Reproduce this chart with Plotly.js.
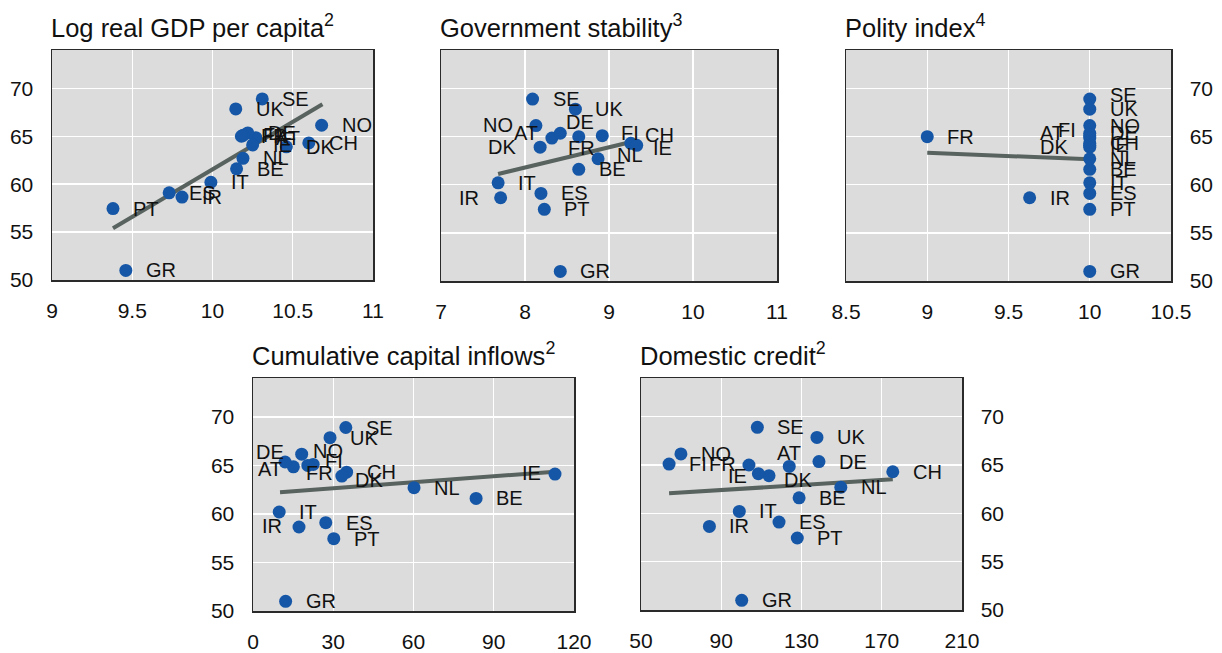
<!DOCTYPE html>
<html>
<head>
<meta charset="utf-8">
<script src="https://cdn.plot.ly/plotly-3.0.1.min.js"></script>
<style>
  html, body { margin: 0; padding: 0; background: #ffffff; }
  #chart { width: 1222px; height: 653px; }
</style>
</head>
<body>
<div id="chart"></div>
<script>
// Country codes and the common vertical variable
const countries = ['AT','BE','CH','DE','DK','ES','FI','FR','GR','IE','IR','IT','NL','NO','PT','SE','UK'];
const outcome   = [64.85, 61.6, 64.3, 65.35, 63.9, 59.1, 65.1, 65.0, 51.0, 64.1, 58.65, 60.2, 62.7, 66.15, 57.45, 68.9, 67.85];

// Explanatory variables, one per panel (same country order)
const logGdpPerCapita   = [10.27, 10.15, 10.60, 10.22, 10.46, 9.73, 10.19, 10.18, 9.46, 10.25, 9.81, 9.99, 10.19, 10.68, 9.38, 10.31, 10.145];
const govStability      = [8.32, 8.64, 9.26, 8.42, 8.18, 8.19, 8.92, 8.64, 8.42, 9.33, 7.71, 7.68, 8.87, 8.13, 8.23, 8.09, 8.60];
const polityIndex       = [10, 10, 10, 10, 10, 10, 10, 9.0, 10, 10, 9.63, 10, 10, 10, 10, 10, 10];
const capitalInflows    = [15.1, 83.4, 35.0, 12.0, 33.2, 27.2, 22.5, 20.5, 12.2, 112.9, 17.2, 9.8, 60.2, 18.2, 30.2, 34.7, 28.8];
const domesticCredit    = [123.9, 128.8, 175.5, 138.7, 113.8, 118.8, 64.0, 103.8, 100.2, 108.5, 84.1, 99.0, 149.6, 69.9, 127.9, 108.0, 137.7];

// Fitted lines (end points)
const fitGdpX = [9.38, 10.685],  fitGdpY = [55.4, 68.33];
const fitGovX = [7.68, 9.31],    fitGovY = [61.12, 64.55];
const fitPolX = [9.0, 10.0],     fitPolY = [63.33, 62.64];
const fitCapX = [10.1, 112.9],   fitCapY = [62.23, 64.35];
const fitCrdX = [64.0, 175.5],   fitCrdY = [62.07, 63.52];

// Panel titles
const titles = [
  'Log real GDP per capita<sup>2</sup>',
  'Government stability<sup>3</sup>',
  'Polity index<sup>4</sup>',
  'Cumulative capital inflows<sup>2</sup>',
  'Domestic credit<sup>2</sup>'
];

const W = 1222, H = 653;
const FONT = 'Liberation Sans, Arial, Helvetica, sans-serif';
const BLUE = '#1556a6';
const FITCOL = '#58625e';
const INK = '#111111';

// Plot-area boxes in pixels: [left, top, right, bottom]
const panels = [
  { x: logGdpPerCapita, fx: fitGdpX, fy: fitGdpY, box: [52, 50, 373, 280],  xr: [9, 11],    dt: 0.5, yside: 'left'  },
  { x: govStability,    fx: fitGovX, fy: fitGovY, box: [441, 50, 777, 281], xr: [7, 11],    dt: 1,   yside: 'none'  },
  { x: polityIndex,     fx: fitPolX, fy: fitPolY, box: [846, 50, 1171, 281],xr: [8.5, 10.5],dt: 0.5, yside: 'right' },
  { x: capitalInflows,  fx: fitCapX, fy: fitCapY, box: [253, 378, 574, 611],xr: [0, 120],   dt: 30,  yside: 'left'  },
  { x: domesticCredit,  fx: fitCrdX, fy: fitCrdY, box: [641, 378, 962, 610],xr: [50, 210],  dt: 40,  yside: 'right' }
];

// Label placement tweaks: [anchor, dx, dy] in pixels (anchor l/r/c of the text box)
const labelTweaks = [
  {},
  { NO: ['r', -22, -1], DE: ['l', 5, -11], AT: ['r', -13, -5], DK: ['r', -23, 0], FR: ['c', 3, 11],
    FI: ['l', 18, -3], CH: ['l', 13, -8], IE: ['l', 15, 3], NL: ['l', 18, -4], IR: ['r', -21, 0] },
  { AT: ['r', -25, -5], FI: ['r', -13, -6], DK: ['r', -21, 0], SE: ['l', 19, -4] },
  { NO: ['l', 10, -3], DE: ['r', 0, -10], AT: ['r', -10, 2], FR: ['l', -3, 8], FI: ['l', 11, -3],
    DK: ['l', 12, 4], IE: ['r', -13, -1], IR: ['r', -16, -1] },
  { FR: ['r', -12, -1], IE: ['r', -10, 2], DK: ['l', 14, 4], AT: ['c', 0, -13] }
];

const data = [];
const annotations = [];
const layout = {
  width: W, height: H,
  margin: { l: 0, r: 0, t: 0, b: 0 },
  paper_bgcolor: '#ffffff',
  plot_bgcolor: '#dcdcdc',
  showlegend: false,
  font: { family: FONT, size: 20, color: INK },
  annotations: annotations
};

panels.forEach((p, i) => {
  const n = i + 1;
  const xa = 'x' + (n === 1 ? '' : n), ya = 'y' + (n === 1 ? '' : n);
  const xKey = 'xaxis' + (n === 1 ? '' : n), yKey = 'yaxis' + (n === 1 ? '' : n);
  const [l, t, r, b] = p.box;

  layout[xKey] = {
    domain: [l / W, r / W], anchor: ya, range: p.xr, tick0: p.xr[0], dtick: p.dt,
    showgrid: true, gridcolor: '#ffffff', gridwidth: 1.4, zeroline: false,
    showline: true, mirror: true, linecolor: '#2a2a2a', linewidth: 1.5,
    ticks: '', ticklabelstandoff: 11, tickfont: { family: FONT, size: 21, color: INK },
    fixedrange: true
  };
  layout[yKey] = {
    domain: [1 - b / H, 1 - t / H], anchor: xa, range: [50, 74], tick0: 50, dtick: 5,
    side: p.yside === 'right' ? 'right' : 'left',
    showticklabels: p.yside !== 'none',
    showgrid: true, gridcolor: '#ffffff', gridwidth: 1.4, zeroline: false,
    showline: true, mirror: true, linecolor: '#2a2a2a', linewidth: 1.5,
    ticks: '', ticklabelstandoff: 13, tickfont: { family: FONT, size: 21, color: INK },
    fixedrange: true
  };

  data.push({
    type: 'scatter', mode: 'lines', x: p.fx, y: p.fy, xaxis: xa, yaxis: ya,
    line: { color: FITCOL, width: 4 }, hoverinfo: 'skip'
  });
  data.push({
    type: 'scatter', mode: 'markers', x: p.x, y: outcome, xaxis: xa, yaxis: ya,
    text: countries, marker: { color: BLUE, size: 13, line: { width: 0 } }, hoverinfo: 'text'
  });

  countries.forEach((c, k) => {
    const tw = labelTweaks[i][c] || ['l', 19, 0];
    annotations.push({
      x: p.x[k], y: outcome[k], xref: xa, yref: ya, text: c, showarrow: false,
      xanchor: tw[0] === 'l' ? 'left' : (tw[0] === 'r' ? 'right' : 'center'),
      yanchor: 'middle', xshift: tw[1], yshift: -tw[2], borderpad: 0,
      font: { family: FONT, size: 20, color: INK }
    });
  });

  annotations.push({
    x: (l - 2) / W, y: 1 - (t - 24) / H, xref: 'paper', yref: 'paper', text: titles[i],
    showarrow: false, xanchor: 'left', yanchor: 'middle', borderpad: 0,
    font: { family: FONT, size: 25.5, color: INK }
  });
});

Plotly.newPlot('chart', data, layout, { displayModeBar: false, staticPlot: true });
</script>
</body>
</html>
